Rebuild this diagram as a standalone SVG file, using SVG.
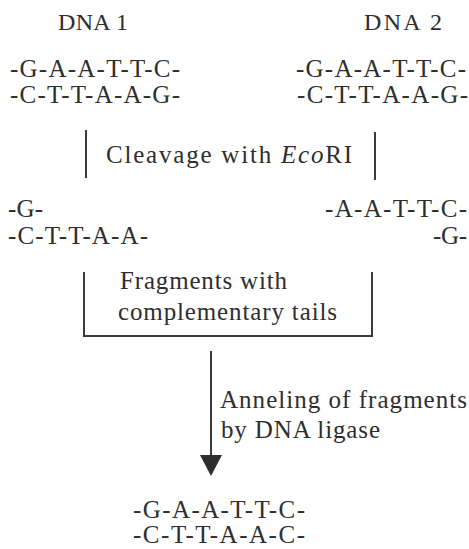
<svg xmlns="http://www.w3.org/2000/svg" width="469" height="549" viewBox="0 0 469 549" font-family="'Liberation Serif', 'DejaVu Serif', serif">
  <style>
    text { font-family: 'Liberation Serif', 'DejaVu Serif', serif; fill: #2e2e2e; }
    .seq { font-size: 25px; }
    .head { font-size: 24px; }
    .lbl { font-size: 25px; }
    .ln { stroke: #3a3a3a; stroke-width: 2; fill: none; }
  </style>
  <rect width="469" height="549" fill="#ffffff"/>

  <g id="dna1">
    <text class="head" x="58" y="30" textLength="70" lengthAdjust="spacing">DNA 1</text>
    <text class="seq" x="10" y="77" textLength="170" lengthAdjust="spacing">-G-A-A-T-T-C-</text>
    <text class="seq" x="10" y="103" textLength="170" lengthAdjust="spacing">-C-T-T-A-A-G-</text>
  </g>

  <g id="dna2">
    <text class="head" x="364" y="30" textLength="78" lengthAdjust="spacing">DNA 2</text>
    <text class="seq" x="296" y="77" textLength="170" lengthAdjust="spacing">-G-A-A-T-T-C-</text>
    <text class="seq" x="297" y="103" textLength="171" lengthAdjust="spacing">-C-T-T-A-A-G-</text>
  </g>

  <g id="cleavage">
    <text class="lbl" x="106" y="163" textLength="246" lengthAdjust="spacing">Cleavage  with  <tspan font-style="italic">Eco</tspan>RI</text>
  </g>

  <g id="fragment1">
    <text class="seq" x="8" y="217" textLength="35" lengthAdjust="spacing">-G-</text>
    <text class="seq" x="8" y="244" textLength="140" lengthAdjust="spacing">-C-T-T-A-A-</text>
  </g>

  <g id="fragment2">
    <text class="seq" x="325" y="217" textLength="142" lengthAdjust="spacing">-A-A-T-T-C-</text>
    <text class="seq" x="433" y="244" textLength="34" lengthAdjust="spacing">-G-</text>
  </g>

  <g id="fragments-note">
    <text class="lbl" x="120" y="289" textLength="167" lengthAdjust="spacing">Fragments with</text>
    <text class="lbl" x="118" y="320" textLength="219" lengthAdjust="spacing">complementary tails</text>
  </g>

  <g id="annealing">
    <text class="lbl" x="220" y="408" textLength="247" lengthAdjust="spacing">Anneling of fragments</text>
    <text class="lbl" x="221" y="438" textLength="159" lengthAdjust="spacing">by DNA ligase</text>
  </g>

  <g id="product">
    <text class="seq" x="133" y="518" textLength="172" lengthAdjust="spacing">-G-A-A-T-T-C-</text>
    <text class="seq" x="133" y="543" textLength="172" lengthAdjust="spacing">-C-T-T-A-A-C-</text>
  </g>

  <g id="connectors">
    <line class="ln" x1="86" y1="130" x2="86" y2="178"/>
    <line class="ln" x1="375" y1="132" x2="375" y2="180"/>
    <polyline class="ln" points="84,272 84,336 372,336 372,272"/>
    <line class="ln" x1="211" y1="351" x2="211" y2="457"/>
    <path d="M200,455 L222,455 L211,476 Z" fill="#2e2e2e"/>
  </g>
</svg>
